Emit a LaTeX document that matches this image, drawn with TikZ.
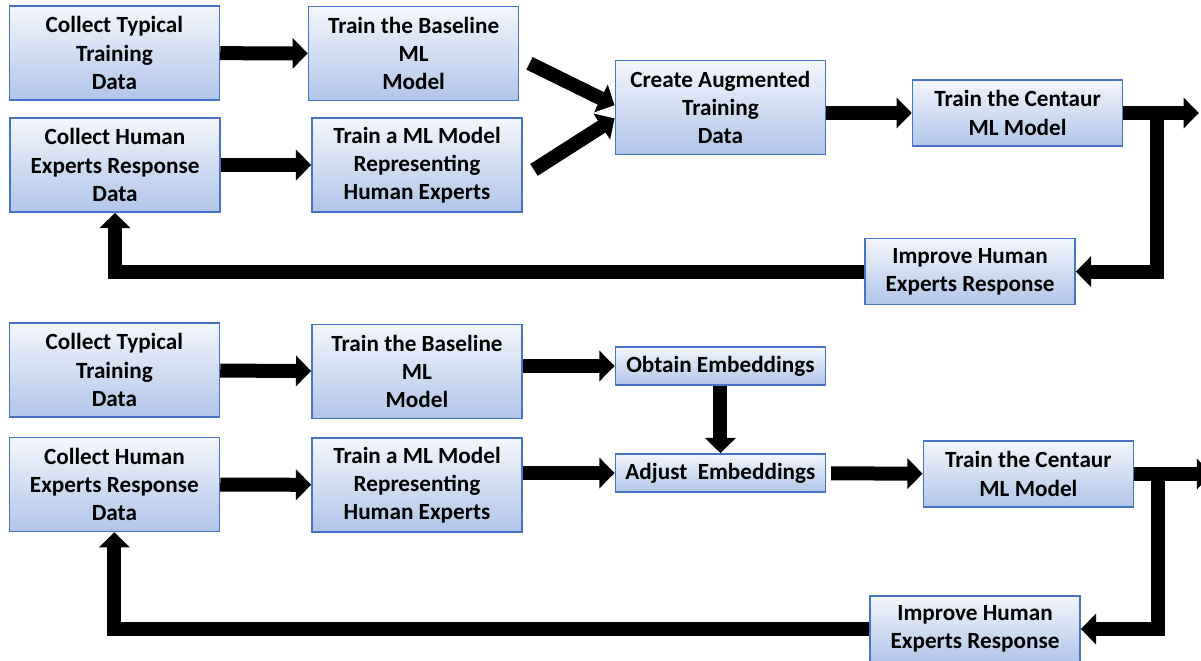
\documentclass[tikz,border=0pt]{standalone}
\usepackage{fontspec}
\setmainfont{Carlito}
\usepackage{xcolor}
\usetikzlibrary{arrows.meta}

\definecolor{boxtop}{RGB}{243,246,252}
\definecolor{boxbot}{RGB}{176,197,232}
\definecolor{boxline}{RGB}{70,115,197}

\begin{document}
\begin{tikzpicture}[font=\fontsize{16.5}{20}\selectfont\bfseries,
        stage/.style={draw=boxline, line width=1.2pt, top color=boxtop, bottom color=boxbot,
            align=center, minimum width=5.25cm, minimum height=2.35cm, inner sep=0pt},
        twoline/.style={stage, minimum height=1.65cm},
        oneline/.style={stage, minimum height=0.95cm},
        flow/.style={line width=0.35cm, -{Triangle[length=0.38cm, width=0.75cm]}},
        link/.style={line width=0.35cm}]
        \useasboundingbox (0,0) rectangle (30.025,-16.525);

        % Upper pipeline: augmented training data
        \node[stage] (typA) at (2.86,-1.325) {Collect Typical\\Training\\Data};
        \node[stage] (baseA) at (10.34,-1.34) {Train the Baseline\\ML\\Model};
        \node[stage] (humA) at (2.875,-4.125) {Collect Human\\Experts Response\\Data};
        \node[stage] (expA) at (10.425,-4.125) {Train a ML Model\\Representing\\Human Experts};
        \node[stage] (augA) at (18.01,-2.69) {Create Augmented\\Training\\Data};
        \node[twoline] (centA) at (25.44,-2.825) {Train the Centaur\\ML Model};
        \node[twoline] (impA) at (24.25,-6.79) {Improve Human\\Experts Response};
        \coordinate (outA) at (29.97,-2.825);
        \coordinate (turnA) at (28.93,-2.825);

        \draw[flow] (typA) -- (baseA);
        \draw[flow] (humA) -- (expA);
        \draw[flow, shorten <=0.28cm] ([yshift=-0.12cm]baseA.east) -- ([yshift=0.06cm]augA.west);
        \draw[flow, shorten <=0.33cm] ([yshift=-0.3cm]expA.east) -- ([yshift=-0.27cm]augA.west);
        \draw[flow] (augA.east |- centA) -- (centA.west);
        \draw[flow] (centA.east) -- (outA);
        \draw[flow] (turnA) |- (impA.east);
        \draw[flow] (impA.west) -| (humA.south);

        % Lower pipeline: adjusted embeddings
        \node[stage] (typB) at (2.86,-9.25) {Collect Typical\\Training\\Data};
        \node[stage] (baseB) at (10.425,-9.29) {Train the Baseline\\ML\\Model};
        \node[stage] (humB) at (2.86,-12.11) {Collect Human\\Experts Response\\Data};
        \node[stage] (expB) at (10.425,-12.125) {Train a ML Model\\Representing\\Human Experts};
        \node[oneline] (obtB) at (18.01,-9.15) {Obtain Embeddings};
        \node[oneline] (adjB) at (18.01,-11.825) {Adjust\ \ Embeddings};
        \node[twoline] (centB) at (25.71,-11.85) {Train the Centaur\\ML Model};
        \node[twoline] (impB) at (24.375,-15.725) {Improve Human\\Experts Response};
        \coordinate (outB) at (30.3,-11.85);
        \coordinate (turnB) at (28.95,-11.85);

        \draw[flow] (typB) -- (baseB);
        \draw[flow] (baseB.east |- obtB) -- (obtB.west);
        \draw[flow] (obtB) -- (adjB);
        \draw[flow] (expB.east |- adjB) -- (adjB.west);
        \draw[flow, shorten <=0.12cm] (adjB) -- (centB);
        \draw[flow] (centB.east) -- (outB);
        \draw[flow] (turnB) |- (impB.east);
        \draw[flow] (impB.west) -| (humB.south);
        \draw[flow] (humB) -- (expB);

    \end{tikzpicture}
\end{document}
